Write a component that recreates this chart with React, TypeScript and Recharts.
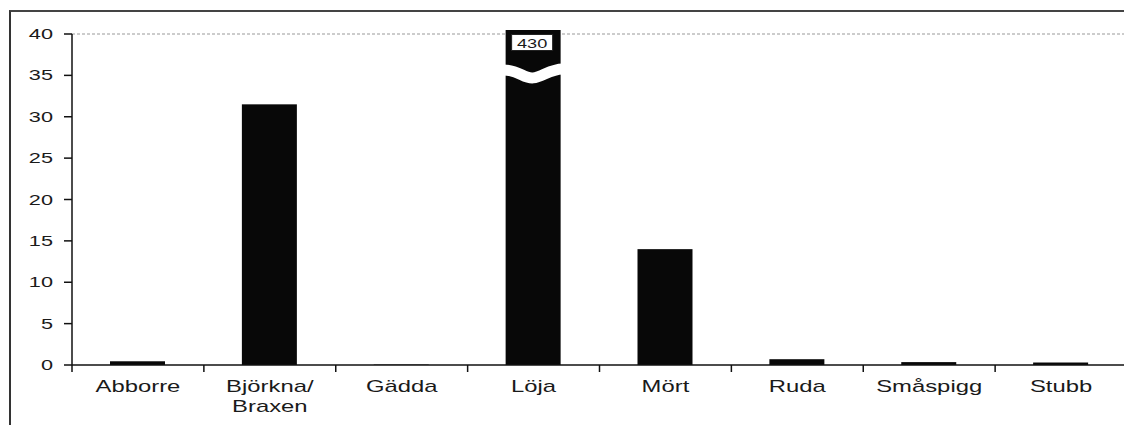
import React from "react";
import { BarChart, Bar, XAxis, YAxis, CartesianGrid } from "recharts";

const categories = ["Abborre", "Björkna/ Braxen", "Gädda", "Löja", "Mört", "Ruda", "Småspigg", "Stubb"];
const values = [0.45, 31.5, 0.05, 430, 14.0, 0.7, 0.35, 0.3];
const yTicks = [0, 5, 10, 15, 20, 25, 30, 35, 40];
const Y_MAX = 40;
const BREAK_AT = 35.3;

const data = categories.map((name, i) => ({ name, value: values[i], shown: Math.min(values[i], Y_MAX) }));

const FONT = "'Liberation Sans', Arial, sans-serif";
const TXT = "#1a1a1a";

const YTick = (props: any) => {
  const { x, y, payload } = props;
  return (
    <g transform={`translate(${x},${y}) scale(1.55,1)`}>
      <text x={0} y={0} dy={5} textAnchor="end" fontFamily={FONT} fontSize={14} fill={TXT}>
        {payload.value}
      </text>
    </g>
  );
};

const XTick = (props: any) => {
  const { x, y, payload, index, visibleTicksCount } = props;
  const off = payload.offset ?? 66;
  const lines = String(payload.value).split(" ");
  const last = index === (visibleTicksCount ?? categories.length) - 1;
  return (
    <g>
      <line x1={x - off} y1={y} x2={x - off} y2={y + 7} stroke="#111" strokeWidth={1.5} />
      {last && <line x1={x + off} y1={y} x2={x + off} y2={y + 7} stroke="#111" strokeWidth={1.5} />}
      {lines.map((l, i) => (
        <g key={i} transform={`translate(${x},${y + 27 + i * 20}) scale(1.49,1)`}>
          <text x={0} y={0} textAnchor="middle" fontFamily={FONT} fontSize={16} fill={TXT}>
            {l}
          </text>
        </g>
      ))}
    </g>
  );
};

const BarShape = (props: any) => {
  const { x, y, width, height, payload } = props;
  if (!height || height <= 0) return null;
  const broken = payload.value > Y_MAX;
  if (!broken) {
    return <rect x={x} y={y} width={width} height={height} fill="#080808" />;
  }
  const unit = height / payload.shown;
  const yc = y + (Y_MAX - BREAK_AT) * unit;
  const x0 = x - 2;
  const x1 = x + width + 2;
  const w = x1 - x0;
  const wave = `M ${x0} ${yc - 3} C ${x0 + w * 0.25} ${yc - 3}, ${x0 + w * 0.35} ${yc + 6}, ${x0 + w * 0.5} ${yc + 5} C ${x0 + w * 0.65} ${yc + 4}, ${x0 + w * 0.8} ${yc - 4}, ${x1} ${yc - 4}`;
  return (
    <g>
      <rect x={x} y={y - 4} width={width} height={height + 4} fill="#080808" />
      <path d={wave} stroke="#fff" strokeWidth={11} fill="none" />
      <rect x={x + 6} y={y + 0.5} width={width - 14} height={16} fill="#fff" stroke="#222" strokeWidth={1} />
      <g transform={`translate(${x + width / 2 - 1},${y + 13.5}) scale(1.4,1)`}>
        <text x={0} y={0} textAnchor="middle" fontFamily={FONT} fontSize={13} fill={TXT}>
          {payload.value}
        </text>
      </g>
    </g>
  );
};

export default function App() {
  return (
    <div style={{ position: "relative", width: 1124, height: 417, overflow: "hidden", background: "#fff" }}>
      <div
        style={{
          position: "absolute",
          left: 1,
          top: 2,
          width: 1300,
          height: 600,
          borderLeft: "2px solid #333",
          borderTop: "2px solid #444",
          boxSizing: "border-box",
        }}
      />
      <div style={{ position: "absolute", left: 0, top: 0 }}>
        <BarChart width={1124} height={417} data={data} margin={{ top: 26, right: 5, bottom: 0, left: 0 }}>
          <CartesianGrid
            yAxisId="left"
            vertical={false}
            horizontalValues={[Y_MAX]}
            stroke="#999"
            strokeDasharray="3 2"
          />
          <XAxis
            dataKey="name"
            yAxisId="left"
            height={60}
            interval={0}
            tickLine={false}
            tickSize={0}
            tickMargin={0}
            axisLine={{ stroke: "#111", strokeWidth: 1.5 }}
            tick={<XTick />}
          />
          <YAxis
            yAxisId="left"
            width={64}
            domain={[0, Y_MAX]}
            ticks={yTicks}
            interval={0}
            tickSize={8}
            tickMargin={11}
            axisLine={{ stroke: "#111", strokeWidth: 1.5 }}
            tickLine={{ stroke: "#111", strokeWidth: 1.5 }}
            tick={<YTick />}
          />
          <YAxis
            yAxisId="right"
            orientation="right"
            width={0}
            domain={[0, Y_MAX]}
            tick={false}
            tickLine={false}
            axisLine={{ stroke: "#999", strokeDasharray: "2 1" }}
          />
          <Bar yAxisId="left" dataKey="shown" barSize={55} shape={<BarShape />} isAnimationActive={false} />
        </BarChart>
      </div>
    </div>
  );
}
